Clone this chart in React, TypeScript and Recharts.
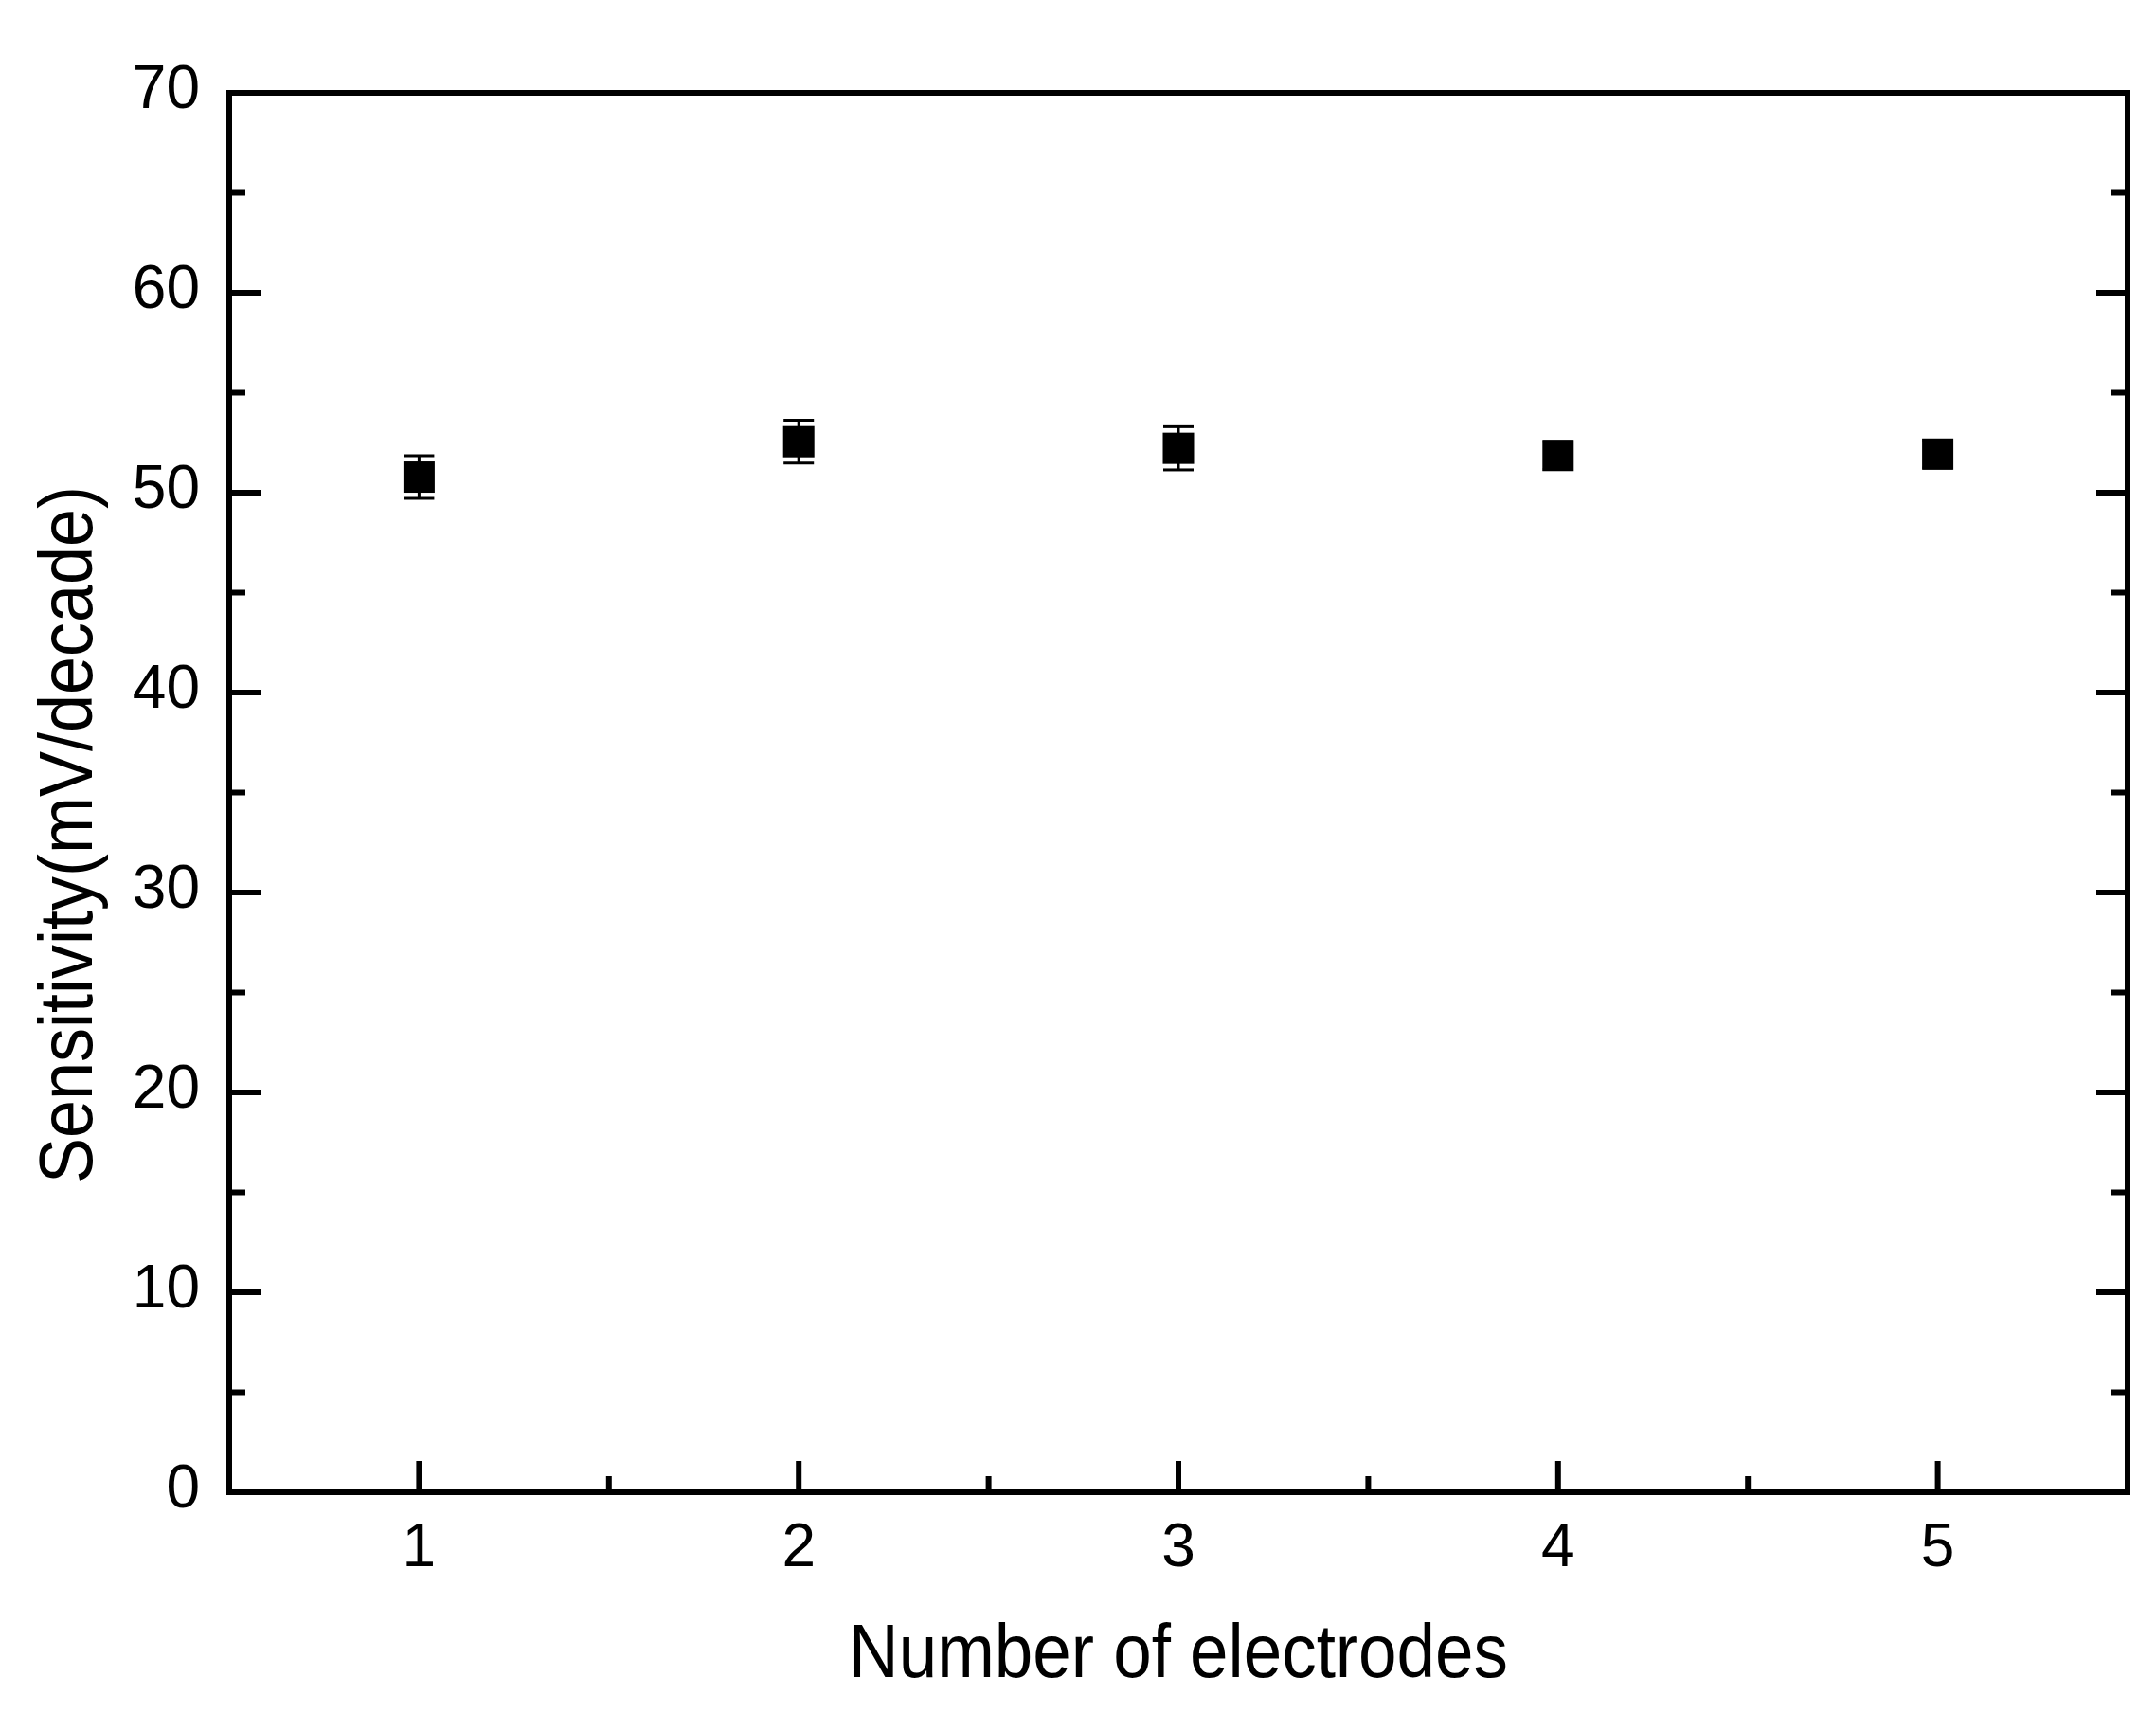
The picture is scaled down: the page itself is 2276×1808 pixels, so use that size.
import React from 'react';
import { ScatterChart, Scatter, XAxis, YAxis, ErrorBar } from 'recharts';

const electrodes = [1, 2, 3, 4, 5];
const sensitivity = [50.78, 52.55, 52.22, 51.86, 51.93];
const sensitivityErr = [1.07, 1.07, 1.08, 0.7, 0.7];
const xTicks = [1, 1.5, 2, 2.5, 3, 3.5, 4, 4.5, 5];
const yTicks = [0, 5, 10, 15, 20, 25, 30, 35, 40, 45, 50, 55, 60, 65, 70];
const xTitle = 'Number of electrodes';
const yTitle = 'Sensitivity(mV/decade)';

const data = electrodes.map((x, i) => ({ x, y: sensitivity[i], err: sensitivityErr[i] }));

const FONT = "'Liberation Sans', Arial, Helvetica, sans-serif";
const W = 2276;
const H = 1808;
const TOP = 98;
const LEFT_W = 242;
const RIGHT_W = 30;
const BOTTOM_H = 233;
const AX_BOTTOM = H - BOTTOM_H;
const AX_LEFT = LEFT_W;
const AX_RIGHT = W - RIGHT_W;
const MAJOR = 33;
const MINOR = 17;

const coord = (p: any, fallback: number) =>
  p && p.payload && typeof p.payload.coordinate === 'number' ? p.payload.coordinate : fallback;

const BottomTick = (props: any) => {
  const v = props.payload.value;
  const x = coord(props, props.x);
  const major = Number.isInteger(v);
  return (
    <g>
      <line x1={x} x2={x} y1={AX_BOTTOM} y2={AX_BOTTOM - (major ? MAJOR : MINOR)} stroke="#000" strokeWidth={6} />
      {major && (
        <text x={x} y={AX_BOTTOM + 78} textAnchor="middle" fontFamily={FONT} fontSize={64} fill="#000">
          {v}
        </text>
      )}
    </g>
  );
};

// left axis tick: draws the inward tick on the left spine, its mirror on the right spine, and the label
const LeftTick = (props: any) => {
  const v = props.payload.value;
  const y = coord(props, props.y);
  const major = v % 10 === 0;
  const len = major ? MAJOR : MINOR;
  return (
    <g>
      <line x1={AX_LEFT} x2={AX_LEFT + len} y1={y} y2={y} stroke="#000" strokeWidth={6} />
      <line x1={AX_RIGHT} x2={AX_RIGHT - len} y1={y} y2={y} stroke="#000" strokeWidth={6} />
      {major && (
        <text x={AX_LEFT - 31} y={y + 16} textAnchor="end" fontFamily={FONT} fontSize={64} fill="#000">
          {v}
        </text>
      )}
    </g>
  );
};

const XTitle = () => (
  <text transform={`translate(${(AX_LEFT + AX_RIGHT) / 2},${AX_BOTTOM + 195}) scale(0.91,1)`} textAnchor="middle" fontFamily={FONT} fontSize={80} fill="#000">
    {xTitle}
  </text>
);

const YTitle = () => (
  <text transform={`translate(97,881) rotate(-90) scale(0.9,1)`} textAnchor="middle" fontFamily={FONT} fontSize={80} fill="#000">
    {yTitle}
  </text>
);

const Square = (props: any) => {
  const { cx, cy } = props;
  return <rect x={cx - 16.5} y={cy - 16.5} width={33} height={33} fill="#000" />;
};

const axisLine = { stroke: '#000', strokeWidth: 6, strokeLinecap: 'square' as const };

export default function App() {
  return (
    <div style={{ width: W, height: H, background: '#fff' }}>
      <style>{`body{margin:0;background:#fff;}`}</style>
      <ScatterChart width={W} height={H} margin={{ top: TOP - 1, right: 0, bottom: 0, left: 0 }}>
        <XAxis
          xAxisId="bottom"
          dataKey="x"
          type="number"
          domain={[0.5, 5.5]}
          ticks={xTicks}
          interval={0}
          orientation="bottom"
          height={BOTTOM_H}
          axisLine={axisLine}
          tickLine={false}
          tickSize={0}
          tickMargin={0}
          tick={(p: any) => <BottomTick {...p} />}
          label={<XTitle />}
        />
        <XAxis
          xAxisId="top"
          type="number"
          domain={[0.5, 5.5]}
          orientation="top"
          height={1}
          axisLine={axisLine}
          tickLine={false}
          tick={false}
        />
        <YAxis
          yAxisId="left"
          dataKey="y"
          type="number"
          domain={[0, 70]}
          ticks={yTicks}
          interval={0}
          orientation="left"
          width={LEFT_W}
          axisLine={axisLine}
          tickLine={false}
          tickSize={0}
          tickMargin={0}
          tick={(p: any) => <LeftTick {...p} />}
        />
        <YAxis
          yAxisId="right"
          type="number"
          domain={[0, 70]}
          orientation="right"
          width={RIGHT_W}
          axisLine={axisLine}
          tickLine={false}
          tick={false}
        />
        <Scatter
          data={data}
          xAxisId="bottom"
          yAxisId="left"
          fill="#000"
          shape={<Square />}
          isAnimationActive={false}
        >
          <ErrorBar dataKey="err" direction="y" width={16} strokeWidth={3} stroke="#000" isAnimationActive={false} />
        </Scatter>
        <YTitle />
      </ScatterChart>
    </div>
  );
}
